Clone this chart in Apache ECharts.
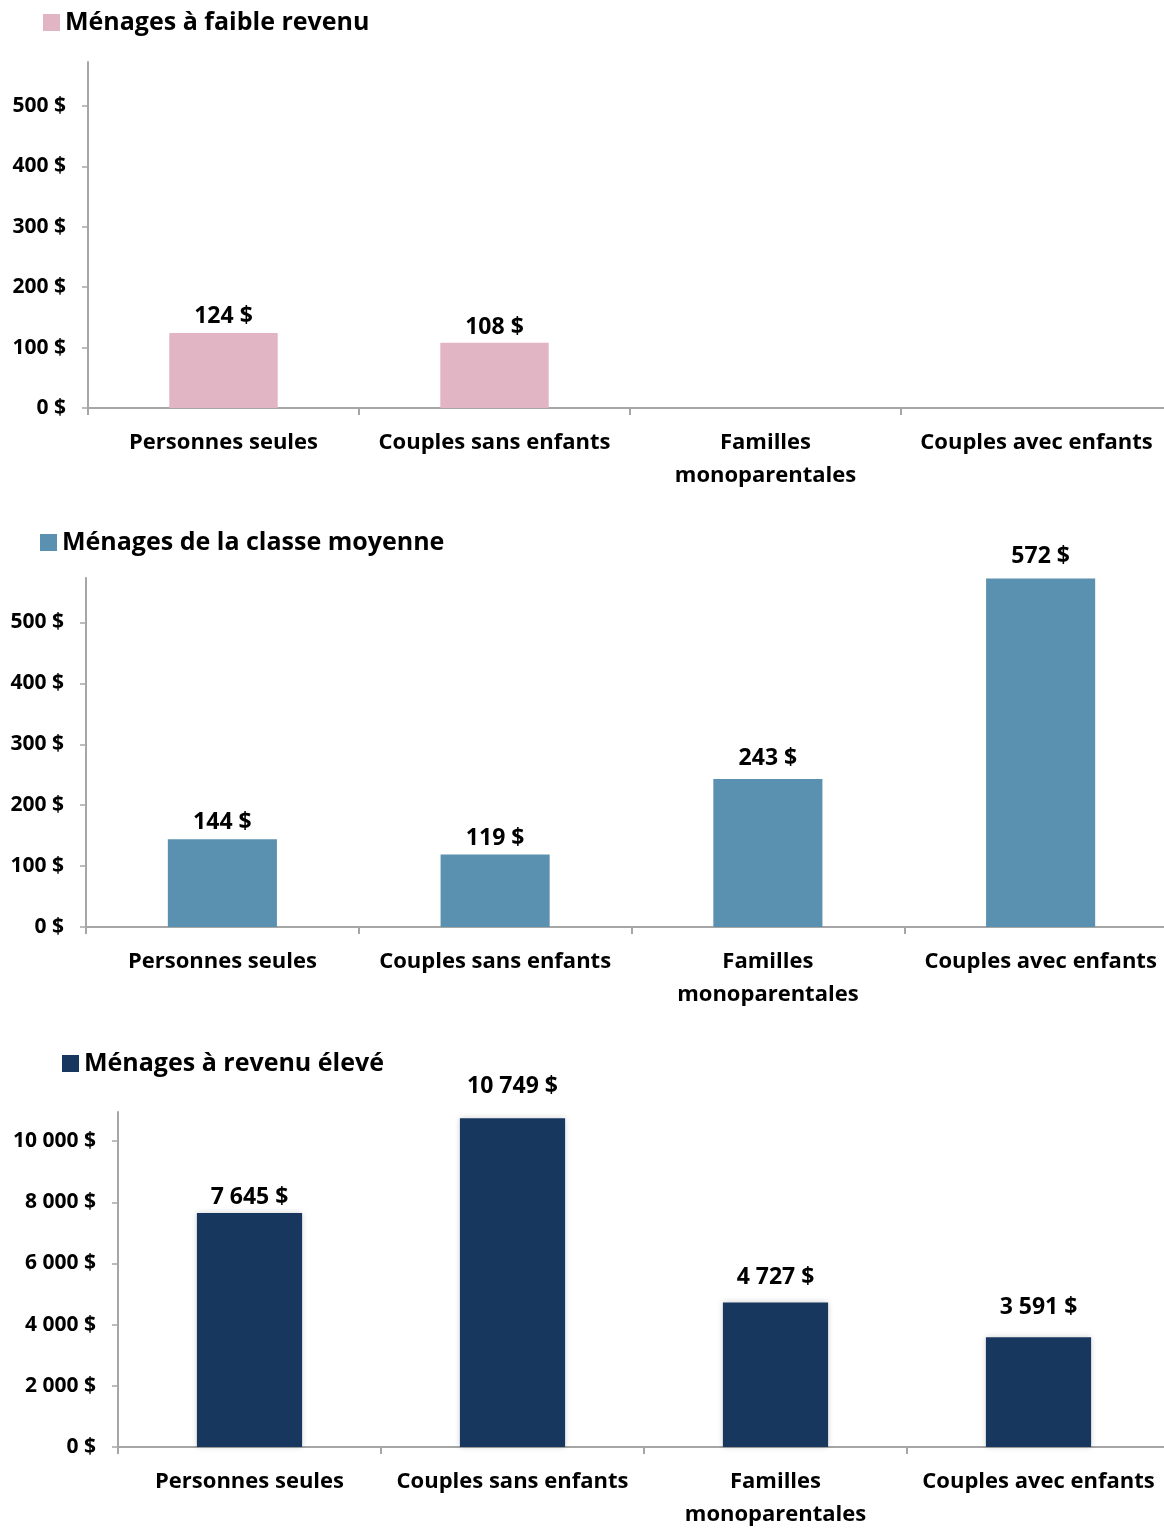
<!DOCTYPE html>
<html><head><meta charset="utf-8">
<script src="https://cdn.jsdelivr.net/npm/echarts@6/dist/echarts.min.js"></script>
<style>html,body{margin:0;padding:0;background:#fff}#c{width:1164px;height:1528px}</style>
</head><body><div id="c"></div>
<script>
const categories = ['Personnes seules', 'Couples sans enfants', 'Familles\nmonoparentales', 'Couples avec enfants'];
const seriesNames = ['Ménages à faible revenu', 'Ménages de la classe moyenne', 'Ménages à revenu élevé'];
const lowIncome = [124, 108, null, null];
const middleClass = [144, 119, 243, 572];
const highIncome = [7645, 10749, 4727, 3591];
const ticksSmall = [0, 100, 200, 300, 400, 500];
const ticksLarge = [0, 2000, 4000, 6000, 8000, 10000];

// styling (label gaps above bars, px)
const labelGaps = [[5, 4, 5, 5], [5, 5, 9, 11], [4, 20, 13, 18]];

const FONT = 'Open Sans';
const fmt = v => String(Math.round(v)).replace(/\B(?=(\d{3})+(?!\d))/g, '\u00a0') + ' $';
const colors = ['#E2B5C4', '#5B91B0', '#17375E'];
const grids = [
  {left: 88, right: -8, top: 62, height: 346, outerBoundsMode: 'none'},
  {left: 86, right: -13, top: 578, height: 349, outerBoundsMode: 'none'},
  {left: 118, right: -6, top: 1112, height: 335, outerBoundsMode: 'none'}
];
const maxes = [573, 573, 10950];
const tickSets = [ticksSmall, ticksSmall, ticksLarge];
const datas = [lowIncome, middleClass, highIncome];
const legendPos = [{left: 38, top: 5}, {left: 35, top: 525}, {left: 57, top: 1046}];

const axisColor = '#A6A6A6';
const option = {
  animation: false,
  textStyle: {fontFamily: FONT},
  grid: grids,
  legend: legendPos.map((p, i) => ({
    left: p.left, top: p.top, data: [seriesNames[i]],
    itemWidth: 17, itemHeight: 17, itemGap: 6,
    icon: 'rect',
    textStyle: {fontFamily: FONT, fontWeight: 'bold', fontSize: 25, color: '#000'},
    selectedMode: false
  })),
  xAxis: grids.map((g, i) => ({
    type: 'category', gridIndex: i, data: categories,
    axisLine: {lineStyle: {color: axisColor, width: 2}},
    axisTick: {show: true, length: 7, lineStyle: {color: axisColor, width: 2}},
    axisLabel: {fontFamily: FONT, fontWeight: 'bold', fontSize: 22, color: '#000', margin: 18, lineHeight: 33, interval: 0}
  })),
  yAxis: grids.map((g, i) => ({
    type: 'value', gridIndex: i, min: 0, max: maxes[i],
    splitLine: {show: false},
    axisLine: {show: true, lineStyle: {color: axisColor, width: 2}},
    axisTick: {show: true, length: 6, customValues: tickSets[i], lineStyle: {color: axisColor, width: 1.5}},
    axisLabel: {customValues: tickSets[i], formatter: fmt, fontFamily: FONT, fontWeight: 'bold', fontSize: 21, color: '#000', margin: 22}
  })),
  series: datas.map((d, i) => ({
    name: seriesNames[i], type: 'bar', xAxisIndex: i, yAxisIndex: i,
    data: d.map((v, j) => ({value: v, label: {distance: labelGaps[i][j]}})),
    barWidth: '40%',
    itemStyle: Object.assign({color: colors[i]}, i === 2 ? {shadowBlur: 6, shadowColor: 'rgba(0,0,0,0.18)'} : {}),
    label: {show: true, position: 'top', formatter: p => p.value == null ? '' : fmt(p.value),
      fontFamily: FONT, fontWeight: 'bold', fontSize: 23, color: '#000'}
  }))
};
echarts.init(document.getElementById('c')).setOption(option);
</script></body></html>
